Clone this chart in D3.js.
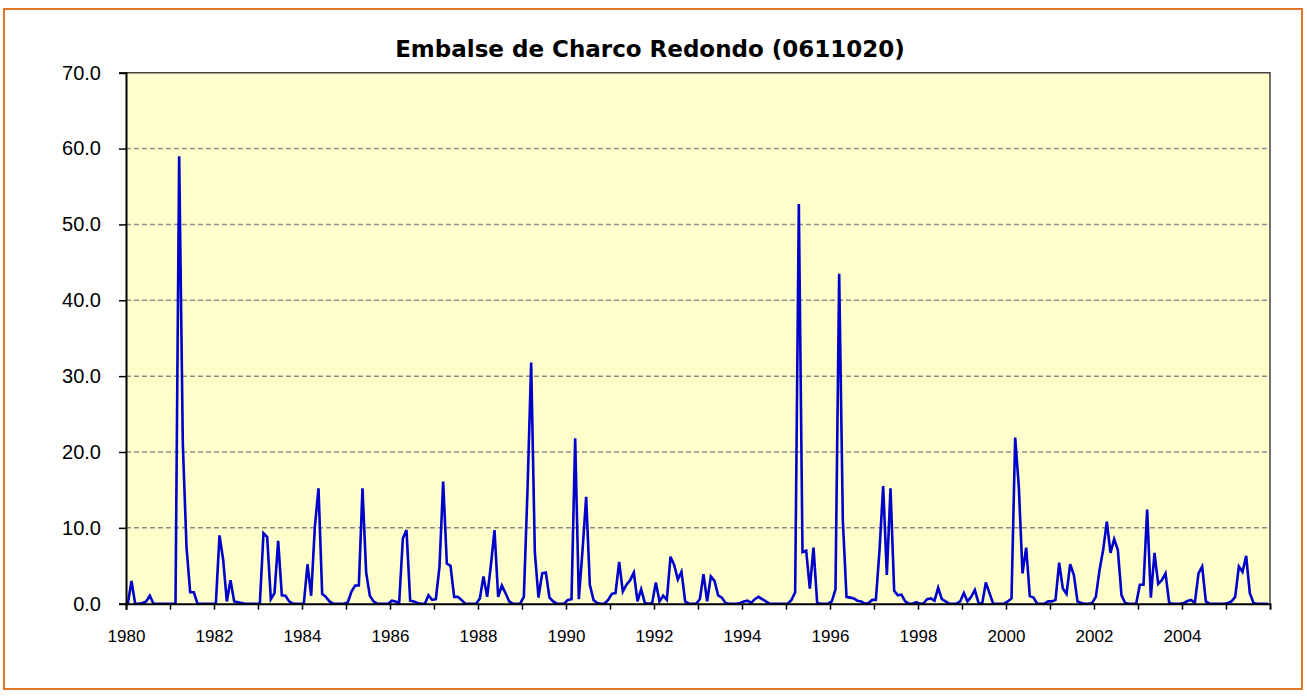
<!DOCTYPE html>
<html>
<head>
<meta charset="utf-8">
<script src="https://cdn.jsdelivr.net/npm/d3@7"></script>
<style>
  html, body { margin: 0; padding: 0; background: #fff; }
  svg { display: block; }
</style>
</head>
<body>
<div id="chart"></div>
<script>
// caudal mensual, un array por año (ene..dic)
const years = [1980, 1981, 1982, 1983, 1984, 1985, 1986, 1987, 1988, 1989, 1990, 1991, 1992,
               1993, 1994, 1995, 1996, 1997, 1998, 1999, 2000, 2001, 2002, 2003, 2004, 2005];

const v1980 = [0, 3.0, 0, 0, 0.1, 0.3, 1.05, 0, 0, 0, 0, 0];
const v1981 = [0, 0, 59.0, 21.0, 7.5, 1.5, 1.5, 0, 0, 0, 0, 0];
const v1982 = [0, 9.0, 5.8, 0.3, 3.1, 0.3, 0.2, 0.1, 0, 0, 0, 0];
const v1983 = [0, 9.3, 8.8, 0.6, 1.4, 8.3, 1.1, 1.05, 0.3, 0, 0, 0];
const v1984 = [0, 5.2, 1.05, 10.1, 15.2, 1.3, 0.9, 0.3, 0, 0, 0, 0];
const v1985 = [0.2, 1.6, 2.4, 2.4, 15.2, 4.1, 1.05, 0.3, 0, 0, 0, 0];
const v1986 = [0.4, 0.3, 0.1, 8.6, 9.7, 0.4, 0.3, 0.1, 0, 0, 1.1, 0.5];
const v1987 = [0.6, 4.9, 16.1, 5.3, 5.0, 0.9, 0.9, 0.5, 0, 0, 0, 0];
const v1988 = [0.7, 3.6, 0.9, 5.0, 9.7, 0.9, 2.4, 1.4, 0.3, 0, 0, 0];
const v1989 = [0.9, 15.0, 31.8, 6.8, 0.8, 4.0, 4.1, 0.8, 0.3, 0, 0, 0];
const v1990 = [0.5, 0.6, 21.8, 0.6, 7.0, 14.1, 2.5, 0.5, 0.1, 0, 0, 0.5];
const v1991 = [1.3, 1.4, 5.5, 1.6, 2.5, 3.1, 4.1, 0.3, 1.9, 0.1, 0, 0.1];
const v1992 = [2.8, 0.3, 1.05, 0.5, 6.2, 5.1, 3.2, 4.2, 0.3, 0, 0, 0];
const v1993 = [0.6, 3.9, 0.3, 3.6, 3.0, 1.1, 0.8, 0.1, 0, 0, 0, 0.1];
const v1994 = [0.3, 0.4, 0.1, 0.6, 0.9, 0.6, 0.3, 0, 0, 0, 0, 0];
const v1995 = [0, 0.5, 1.5, 52.7, 6.8, 7.0, 2.0, 7.4, 0.1, 0, 0, 0];
const v1996 = [0.3, 1.9, 43.5, 11.0, 0.9, 0.8, 0.7, 0.4, 0.3, 0, 0.1, 0.5];
const v1997 = [0.5, 7.0, 15.5, 3.8, 15.2, 1.7, 1.1, 1.2, 0.3, 0, 0, 0.2];
const v1998 = [0, 0.05, 0.6, 0.7, 0.4, 2.1, 0.6, 0.3, 0, 0, 0, 0.3];
const v1999 = [1.4, 0.3, 0.9, 1.8, 0.1, 0, 2.8, 1.4, 0, 0, 0, 0];
const v2000 = [0.3, 0.7, 21.9, 15.4, 4.0, 7.4, 1.0, 0.8, 0, 0, 0, 0.3];
const v2001 = [0.3, 0.5, 5.4, 2.0, 1.3, 5.2, 3.8, 0.3, 0.1, 0, 0, 0.1];
const v2002 = [0.9, 4.4, 7.1, 10.8, 6.7, 8.5, 7.1, 1.1, 0.1, 0, 0, 0];
const v2003 = [2.5, 2.5, 12.4, 0.8, 6.7, 2.6, 3.1, 4.0, 0.1, 0, 0, 0];
const v2004 = [0.1, 0.35, 0.5, 0.1, 4.0, 4.9, 0.3, 0, 0, 0, 0, 0];
const v2005 = [0.1, 0.3, 0.9, 4.9, 4.2, 6.3, 1.4, 0.1, 0, 0, 0, 0];

const yTicks = [0, 10, 20, 30, 40, 50, 60, 70];
const xLabelYears = [1980, 1982, 1984, 1986, 1988, 1990, 1992, 1994, 1996, 1998, 2000, 2002, 2004];

const byYear = [v1980, v1981, v1982, v1983, v1984, v1985, v1986, v1987, v1988, v1989, v1990,
                v1991, v1992, v1993, v1994, v1995, v1996, v1997, v1998, v1999, v2000, v2001,
                v2002, v2003, v2004, v2005];
const series = [];
byYear.forEach(arr => arr.forEach(v => series.push(v)));

const W = 1307, H = 697;
const plot = {left: 126, top: 72.7, right: 1270, bottom: 603.7};

const svg = d3.select("#chart").append("svg")
    .attr("width", W)
    .attr("height", H);

// marco naranja del gráfico
svg.append("rect")
    .attr("x", 4).attr("y", 9)
    .attr("width", 1298).attr("height", 680)
    .attr("fill", "#fff")
    .attr("stroke", "#E3772C")
    .attr("stroke-width", 2);

const nMonths = series.length;
const x = d3.scaleLinear().domain([0, nMonths]).range([plot.left, plot.right]);
const y = d3.scaleLinear().domain([0, 70]).range([plot.bottom, plot.top]);

svg.append("rect")
    .attr("x", plot.left).attr("y", plot.top)
    .attr("width", plot.right - plot.left).attr("height", plot.bottom - plot.top)
    .attr("fill", "#FFFFCC");

// rejilla
svg.append("g")
    .selectAll("line")
    .data(yTicks.filter(d => d > 0 && d < 70))
    .join("line")
    .attr("x1", plot.left).attr("x2", plot.right)
    .attr("y1", d => y(d)).attr("y2", d => y(d))
    .attr("stroke", "#8c8c8c")
    .attr("stroke-width", 1.5)
    .attr("stroke-dasharray", "5,3");

// borde superior y derecho
svg.append("path")
    .attr("d", `M${plot.left},${plot.top}H${plot.right}V${plot.bottom}`)
    .attr("fill", "none")
    .attr("stroke", "#444")
    .attr("stroke-width", 1.5);

const line = d3.line()
    .x((d, i) => x(i + 0.5))
    .y(d => y(d));

svg.append("path")
    .datum(series)
    .attr("d", line)
    .attr("fill", "none")
    .attr("stroke", "#0000CC")
    .attr("stroke-width", 2.6)
    .attr("stroke-linejoin", "miter");

// eje Y
const yAxis = svg.append("g")
    .attr("transform", `translate(${plot.left},0)`)
    .call(d3.axisLeft(y).tickValues(yTicks).tickFormat(d3.format(".1f")).tickSize(7).tickPadding(18));

// eje X: marcas cada 12 meses, etiquetas cada 2 años
const xTickVals = d3.range(0, nMonths, 12);
const xAxis = svg.append("g")
    .attr("transform", `translate(0,${plot.bottom})`)
    .call(d3.axisBottom(x).tickValues(xTickVals).tickSize(6).tickPadding(20)
        .tickFormat(d => {
            const yr = years[d / 12];
            return xLabelYears.includes(yr) ? yr : "";
        }));

[yAxis, xAxis].forEach(g => {
    g.select(".domain").attr("stroke", "#000").attr("stroke-width", 2);
    g.selectAll(".tick line").attr("stroke", "#000").attr("stroke-width", 1.5);
    g.selectAll("text").attr("fill", "#000").attr("font-family", "Liberation Sans, Arial, sans-serif");
});
yAxis.selectAll("text").attr("font-size", 20);
xAxis.selectAll("text").attr("font-size", 17);

svg.append("text")
    .attr("x", 650).attr("y", 57)
    .attr("text-anchor", "middle")
    .attr("font-family", "DejaVu Sans, Verdana, sans-serif")
    .attr("font-weight", "bold")
    .attr("font-size", 23)
    .attr("fill", "#000")
    .text("Embalse de Charco Redondo (0611020)");
</script>
</body>
</html>
